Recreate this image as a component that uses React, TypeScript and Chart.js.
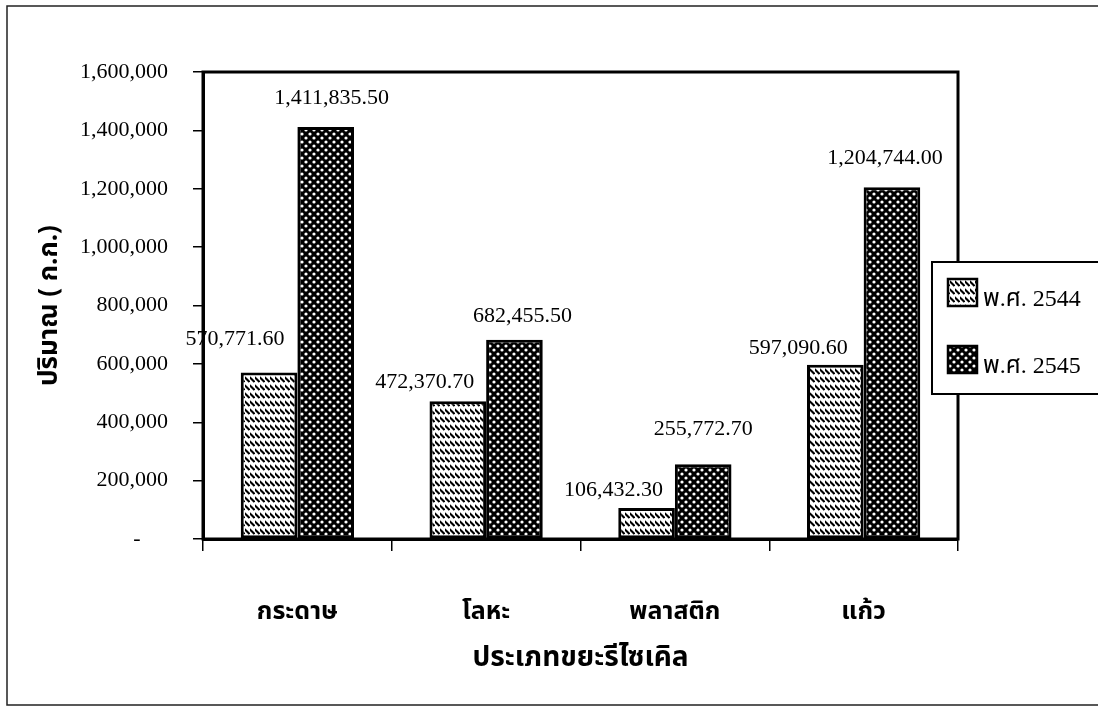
import React, { useEffect, useRef } from 'react';
import { Chart, registerables } from 'chart.js';

Chart.register(...registerables);

// ---- data ----
const categories = ['กระดาษ', 'โลหะ', 'พลาสติก', 'แก้ว'];
const seriesNames = ['พ.ศ. 2544', 'พ.ศ. 2545'];
const values2544 = [570771.6, 472370.7, 106432.3, 597090.6];
const values2545 = [1411835.5, 682455.5, 255772.7, 1204744.0];
const yMin = 0;
const yMax = 1600000;
const yStep = 200000;
const yAxisTitle = 'ปริมาณ ( ก.ก.)';
const xAxisTitle = 'ประเภทขยะรีไซเคิล';

// ---- styling (label placement relative to each bar's top, in px) ----
const LABEL_OFFSETS = [
  [[-34, -33], [-33, -19], [-33, -18], [-37, -17]],
  [[6, -29], [8, -24], [0, -35], [-7, -29]],
];

const SERIF = '"Liberation Serif", "Times New Roman", "Noto Sans Thai", serif';
const THAI = '"Noto Sans Thai", "Noto Sans", "DejaVu Sans", sans-serif';

function fmt2(v: number) {
  return v.toLocaleString('en-US', { minimumFractionDigits: 2, maximumFractionDigits: 2 });
}

function makeHatch(): CanvasPattern | string {
  const c = document.createElement('canvas');
  c.width = 5;
  c.height = 8;
  const g = c.getContext('2d');
  if (!g) return '#888';
  g.fillStyle = '#fff';
  g.fillRect(0, 0, 5, 8);
  g.strokeStyle = '#000';
  g.lineWidth = 2;
  g.beginPath();
  g.moveTo(-0.5, 1);
  g.lineTo(4.5, 6);
  g.stroke();
  const p = g.createPattern(c, 'repeat');
  return p || '#888';
}

function makeDots(): CanvasPattern | string {
  const c = document.createElement('canvas');
  c.width = 8;
  c.height = 8;
  const g = c.getContext('2d');
  if (!g) return '#333';
  g.fillStyle = '#000';
  g.fillRect(0, 0, 8, 8);
  g.fillStyle = '#fff';
  g.beginPath();
  g.arc(2, 2, 1.6, 0, Math.PI * 2);
  g.fill();
  g.beginPath();
  g.arc(6, 6, 1.6, 0, Math.PI * 2);
  g.fill();
  const p = g.createPattern(c, 'repeat');
  return p || '#333';
}

export default function App() {
  const ref = useRef<HTMLCanvasElement | null>(null);

  useEffect(() => {
    if (!ref.current) return;
    const hatch = makeHatch();
    const dots = makeDots();
    const fills = [hatch, dots];

    const decor = {
      id: 'decor',
      afterDatasetsDraw(chart: any) {
        const { ctx, chartArea: a } = chart;
        ctx.save();
        ctx.strokeStyle = '#000';
        ctx.lineWidth = 3;
        ctx.strokeRect(a.left, a.top, a.right - a.left, a.bottom - a.top);
        ctx.font = `22px ${SERIF}`;
        ctx.fillStyle = '#000';
        ctx.textAlign = 'center';
        ctx.textBaseline = 'middle';
        chart.data.datasets.forEach((ds: any, di: number) => {
          const meta = chart.getDatasetMeta(di);
          meta.data.forEach((el: any, i: number) => {
            const [dx, dy] = LABEL_OFFSETS[di][i];
            ctx.fillText(fmt2(ds.data[i]), el.x + dx, el.y + dy);
          });
        });
        ctx.restore();
      },
      afterDraw(chart: any) {
        const { ctx } = chart;
        ctx.save();
        // outer frame
        ctx.strokeStyle = '#222';
        ctx.lineWidth = 1.5;
        ctx.beginPath();
        ctx.moveTo(1098, 6);
        ctx.lineTo(7, 6);
        ctx.lineTo(7, 705);
        ctx.lineTo(1098, 705);
        ctx.stroke();
        // legend box
        ctx.fillStyle = '#fff';
        ctx.fillRect(932, 262, 170, 132);
        ctx.strokeStyle = '#000';
        ctx.lineWidth = 2;
        ctx.strokeRect(932, 262, 170, 132);
        const rows = [
          { sy: 279, ty: 300 },
          { sy: 346, ty: 367 },
        ];
        chart.data.datasets.forEach((ds: any, di: number) => {
          const r = rows[di];
          ctx.fillStyle = ds.backgroundColor;
          ctx.fillRect(948, r.sy, 29, 27);
          ctx.strokeStyle = '#000';
          ctx.lineWidth = 2.5;
          ctx.strokeRect(948, r.sy, 29, 27);
          ctx.fillStyle = '#000';
          ctx.font = `24px ${SERIF}`;
          ctx.textAlign = 'left';
          ctx.textBaseline = 'middle';
          ctx.fillText(ds.label, 983, r.ty);
        });
        ctx.restore();
      },
    };

    const chart = new Chart(ref.current, {
      type: 'bar',
      data: {
        labels: categories,
        datasets: [
          {
            label: seriesNames[0],
            data: values2544,
            backgroundColor: fills[0] as any,
            borderColor: '#000',
            borderWidth: 3,
            borderSkipped: false,
          },
          {
            label: seriesNames[1],
            data: values2545,
            backgroundColor: fills[1] as any,
            borderColor: '#000',
            borderWidth: 3,
            borderSkipped: false,
          },
        ],
      },
      options: {
        animation: false,
        responsive: false,
        maintainAspectRatio: false,
        layout: { padding: { left: 0, top: 72, right: 140, bottom: 0 } },
        datasets: { bar: { categoryPercentage: 0.6, barPercentage: 1.0 } },
        plugins: {
          legend: { display: false },
          title: { display: false },
          tooltip: { enabled: false },
        },
        scales: {
          x: {
            afterFit: (s: any) => {
              s.height = 170;
            },
            grid: {
              display: true,
              drawOnChartArea: false,
              drawTicks: true,
              tickLength: 12,
              offset: true,
              color: '#000',
              lineWidth: 1.5,
            },
            border: { display: true, color: '#000', width: 3 },
            ticks: {
              color: '#000',
              padding: 48,
              font: { family: THAI, size: 25, weight: 'bold' },
            },
            title: {
              display: true,
              text: xAxisTitle,
              color: '#000',
              font: { family: THAI, size: 28, weight: 'bold' },
              padding: { top: 0, bottom: 32 },
            },
          },
          y: {
            min: yMin,
            max: yMax,
            afterFit: (s: any) => {
              s.width = 203;
            },
            grid: {
              display: true,
              drawOnChartArea: false,
              drawTicks: true,
              tickLength: 10,
              color: '#000',
              lineWidth: 1.5,
            },
            border: { display: true, color: '#000', width: 3 },
            ticks: {
              stepSize: yStep,
              color: '#000',
              padding: 25,
              font: { family: SERIF, size: 22 },
              callback: (v: any) => (Number(v) === 0 ? '-     ' : Number(v).toLocaleString('en-US')),
            },
            title: {
              display: true,
              text: yAxisTitle,
              color: '#000',
              font: { family: THAI, size: 26, weight: 'bold' },
              padding: { top: 36, bottom: 0 },
            },
          },
        },
      },
      plugins: [decor],
    });
    return () => chart.destroy();
  }, []);

  return (
    <div style={{ position: 'absolute', left: 0, top: 0, width: 1098, height: 709, background: '#fff' }}>
      <canvas ref={ref} width={1098} height={709} />
    </div>
  );
}
